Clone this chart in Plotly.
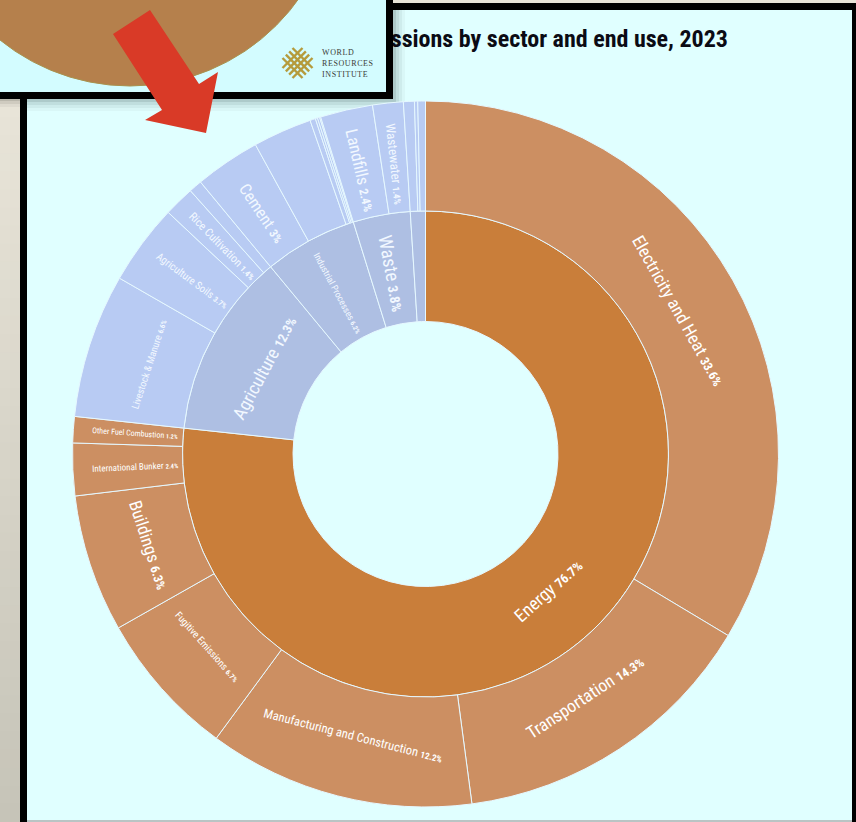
import math
import plotly.graph_objects as go

W, H = 856, 822
CX, CY = 425.5, 454
R_OUTER, R_MID = 353, 243
HOLE_R = 132.5

# Top-level sectors, clockwise from twelve o'clock
sector_names = ["Energy", "Agriculture", "Industrial Processes", "Waste", "Land-Use Change and Forestry"]
sector_values = [76.7, 12.3, 6.2, 3.8, 1.0]
sector_sizes = [18, 18, 9.3, 19, 0]
sector_modes = ["tangential", "tangential", "radial", "radial", None]
sector_colors = ["#C97E3A", "#AEBFE3", "#AEBFE3", "#AEBFE3", "#AEBFE3"]

# End uses, in the same order around the ring
use_names = ["Electricity and Heat", "Transportation", "Manufacturing and Construction",
             "Fugitive Emissions", "Buildings", "International Bunker", "Other Fuel Combustion",
             "Livestock & Manure", "Agriculture Soils", "Rice Cultivation", "Burning",
             "Cement", "Chemicals", "Other Industrial", "Lime", "Metals", "Solvents",
             "Landfills", "Wastewater",
             "Forest Land", "Cropland", "Grassland"]
use_values = [33.6, 14.3, 12.2, 6.7, 6.3, 2.4, 1.2,
              6.6, 3.7, 1.4, 0.6,
              3.0, 2.7, 0.25, 0.1, 0.1, 0.05,
              2.4, 1.4,
              0.5, 0.15, 0.35]
use_sizes = [17.5, 17.5, 12.5, 10, 17.5, 9, 8,
             10, 10.6, 11.5, 0,
             16.5, 0, 0, 0, 0, 0,
             17, 13,
             0, 0, 0]
use_modes = ["tangential", "tangential", "tangential", "tangential", "tangential", "radial", "radial",
             "tangential", "radial", "radial", None,
             "radial", None, None, None, None, None,
             "radial", "radial",
             None, None, None]
use_colors = ["#CC8F62"] * 7 + ["#B8CBF3"] * 15

TEXT_FONT = "Roboto Condensed, Roboto, sans-serif"
NARROW = "font-stretch:75%"
SLICE_EDGE = "#E6F8FF"


def domain(radius):
    return dict(x=[(CX - radius) / W, (CX + radius) / W],
                y=[1 - (CY + radius) / H, 1 - (CY - radius) / H])


def ring(names, values, colors, radius, hole):
    return go.Pie(labels=names, values=values, sort=False, direction="clockwise", rotation=0,
                  domain=domain(radius), hole=hole, textinfo="none", showlegend=False,
                  marker=dict(colors=colors, line=dict(color=SLICE_EDGE, width=1)))


def ring_labels(names, values, sizes, modes, radius, colors):
    """Place each label at its slice's mid-angle, turned along or across the ring."""
    notes = []
    total = sum(values)
    start = 0.0
    for name, value, size, mode, color in zip(names, values, sizes, modes, colors):
        mid = (start + value / 2) / total * 360
        start += value
        if mode is None:
            continue
        if mode == "tangential":
            angle = mid if (mid < 90 or mid > 270) else mid - 180
        else:
            angle = mid - 90 if mid < 180 else mid - 270
        if angle > 180:
            angle -= 360
        theta = math.radians(mid)
        number = f"{value:g}%"
        small = max(size * 0.72, 6)
        text = (f"<span style='{NARROW}'>{name} "
                f"<b><span style='font-size:{small:.1f}px'>{number}</span></b></span>")
        notes.append(dict(text=text, x=CX + radius * math.sin(theta), y=CY - radius * math.cos(theta),
                          xref="x", yref="y", xanchor="center", yanchor="middle", showarrow=False,
                          textangle=angle, font=dict(family=TEXT_FONT, size=size, color=color)))
    return notes


fig = go.Figure()

# Title sits on the axes layer so the inset panel can overlap its start
fig.add_trace(go.Scatter(x=[728], y=[41], mode="text", showlegend=False,
                         text=[f"<span style='{NARROW}'><b>emissions by sector and end use, 2023</b></span>"],
                         textposition="middle left",
                         textfont=dict(family=TEXT_FONT, size=24, color="#0B0B14")))

fig.add_trace(ring(sector_names, sector_values, sector_colors, R_MID, HOLE_R / R_MID))
fig.add_trace(ring(use_names, use_values, use_colors, R_OUTER, R_MID / R_OUTER))

shapes = []


def rect(x0, y0, x1, y1, color, layer="below"):
    shapes.append(dict(type="rect", x0=x0, y0=y0, x1=x1, y1=y1, xref="x", yref="y", layer=layer,
                       fillcolor=color, line=dict(width=0)))


# Backdrop behind the framed card: beige wash that darkens downwards
wash_top = (232, 228, 216)
wash_bottom = (198, 196, 184)
steps = 40
for i in range(steps):
    t = i / (steps - 1)
    c = tuple(round(a + (b - a) * t) for a, b in zip(wash_top, wash_bottom))
    rect(0, 99 + (H - 99) * i / steps, 20, 99 + (H - 99) * (i + 1) / steps + 1, f"rgb{c}")
rect(393, 0, W, 3, "#E8E4D8")

# Framed card
rect(20, 3, W, H, "#000000")
rect(27, 10, 852, 820, "#E0FFFF")
rect(27, 820, 852, H, "#B9C4C4")

# Soft shadow thrown by the inset panel
for off, alpha in [(12, 0.04), (9, 0.06), (6, 0.08), (3, 0.12)]:
    rect(393, 10, 393 + off, 99 + off, f"rgba(40,60,60,{alpha})")
    rect(27, 99, 393, 99 + off, f"rgba(40,60,60,{alpha})")
for off, alpha in [(8, 0.05), (5, 0.08), (2, 0.12)]:
    rect(0, 99, 20, 99 + off, f"rgba(40,40,30,{alpha})")

# Inset panel with the cropped disc
rect(0, 0, 393, 99, "#000000", layer="above")
rect(0, 0, 386, 92, "#D3FCFF", layer="above")
shapes.append(dict(type="circle", xref="x", yref="y", layer="above",
                   x0=-77, x1=337, y0=-328, y1=86,
                   fillcolor="#B5804C", line=dict(color="#A8924E", width=1)))

# Logo: woven diamond lattice
LOGO_X, LOGO_Y = 297.5, 63
LOGO_SPAN = 20
LOGO_GOLD = "#B59B3C"
for k in (-10, -3.3, 3.3, 10):
    shift = k * 0.5
    shapes.append(dict(type="line", xref="x", yref="y", layer="above",
                       x0=LOGO_X + shift - LOGO_SPAN / 2, y0=LOGO_Y + shift + LOGO_SPAN / 2,
                       x1=LOGO_X + shift + LOGO_SPAN / 2, y1=LOGO_Y + shift - LOGO_SPAN / 2,
                       line=dict(color=LOGO_GOLD, width=2.4)))
    shapes.append(dict(type="line", xref="x", yref="y", layer="above",
                       x0=LOGO_X + shift - LOGO_SPAN / 2, y0=LOGO_Y - shift - LOGO_SPAN / 2,
                       x1=LOGO_X + shift + LOGO_SPAN / 2, y1=LOGO_Y - shift + LOGO_SPAN / 2,
                       line=dict(color=LOGO_GOLD, width=2.4)))

# Red pointer arrow
shapes.append(dict(type="path", xref="x", yref="y", layer="above",
                   path="M 150 10 L 113 34 L 162 110 L 145 120 L 206 133 L 218 72 L 199 84 Z",
                   fillcolor="#D93A27", line=dict(width=0)))

annotations = []
for text, y in [("WORLD", 52.5), ("RESOURCES", 63.5), ("INSTITUTE", 74.5)]:
    annotations.append(dict(text=f"<span style='letter-spacing:0.6px'>{text}</span>", x=320, y=y,
                            xref="x", yref="y", xanchor="left", yanchor="middle", showarrow=False,
                            font=dict(family="Liberation Serif", size=8, color="#3A3A36")))

sector_text = ["#FFFFFF", "#F2F8FF", "#F2F8FF", "#F2F8FF", "#F2F8FF"]
use_text = ["#FFFFFF"] * 7 + ["#F2F8FF"] * 15
annotations += ring_labels(sector_names, sector_values, sector_sizes, sector_modes, 183, sector_text)
annotations += ring_labels(use_names, use_values, use_sizes, use_modes, 291, use_text)

fig.update_layout(
    width=W, height=H, margin=dict(l=0, r=0, t=0, b=0, pad=0),
    paper_bgcolor="#E0FFFF", plot_bgcolor="rgba(0,0,0,0)",
    xaxis=dict(range=[0, W], visible=False, fixedrange=True),
    yaxis=dict(range=[H, 0], visible=False, fixedrange=True),
    shapes=shapes, annotations=annotations, showlegend=False,
    hovermode=False,
)

fig.write_html("out.html", config=dict(displayModeBar=False))
